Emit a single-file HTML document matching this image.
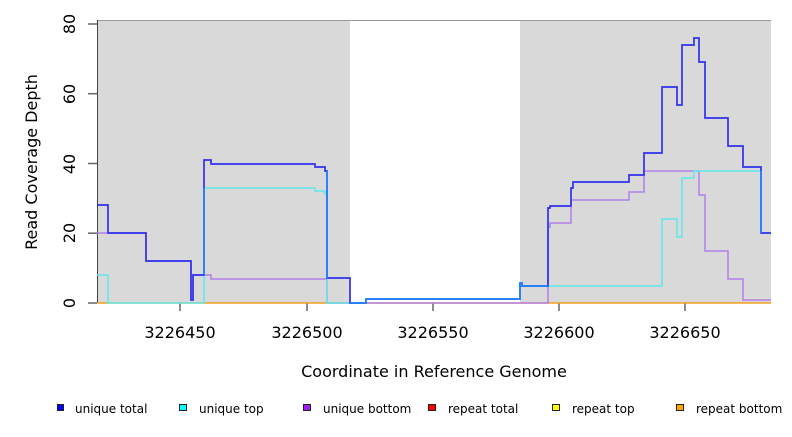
<!DOCTYPE html>
<html><head><meta charset="utf-8"><style>
html,body{margin:0;padding:0;background:#fff;}
svg text{font-family:"DejaVu Sans","Liberation Sans",sans-serif;fill:#000;}
</style></head><body>
<svg width="792" height="432" viewBox="0 0 792 432" xmlns="http://www.w3.org/2000/svg">
<rect x="97" y="20" width="253" height="283" fill="#d9d9d9"/>
<rect x="520" y="20" width="251" height="283" fill="#d9d9d9"/>
<line x1="97" y1="20.5" x2="771" y2="20.5" stroke="#999" stroke-width="1"/>
<line x1="97.5" y1="20" x2="97.5" y2="303" stroke="#444" stroke-width="1"/>
<g stroke="#666" stroke-width="1.5">
<line x1="88" y1="303" x2="97" y2="303"/><line x1="88" y1="233.2" x2="97" y2="233.2"/>
<line x1="88" y1="163.5" x2="97" y2="163.5"/><line x1="88" y1="93.7" x2="97" y2="93.7"/>
<line x1="88" y1="24" x2="97" y2="24"/>
<line x1="180" y1="303" x2="180" y2="311"/><line x1="307" y1="303" x2="307" y2="311"/>
<line x1="433" y1="303" x2="433" y2="311"/><line x1="559" y1="303" x2="559" y2="311"/>
<line x1="685" y1="303" x2="685" y2="311"/>
</g>
<g font-size="16" text-anchor="middle">
<text transform="translate(75,303) rotate(-90)">0</text>
<text transform="translate(75,233) rotate(-90)">20</text>
<text transform="translate(75,164) rotate(-90)">40</text>
<text transform="translate(75,94) rotate(-90)">60</text>
<text transform="translate(75,24) rotate(-90)">80</text>
<text x="180" y="338">3226450</text><text x="307" y="338">3226500</text>
<text x="433" y="338">3226550</text><text x="559" y="338">3226600</text>
<text x="685" y="338">3226650</text>
<text x="434" y="377">Coordinate in Reference Genome</text>
<text transform="translate(37,162) rotate(-90)">Read Coverage Depth</text>
</g>
<line x1="97" y1="303" x2="771" y2="303" stroke="#f0a020" stroke-width="1.5"/>
<polyline fill="none" stroke="#b080e8" stroke-width="1.5" points="97,233 146,233 146,261 191,261 191,300 193,300 193,275 211,275 211,279 327,279 327,303 548,303 548,227 550,227 550,223 571,223 571,200 629,200 629,192 644,192 644,171 699,171 699,195 705,195 705,251 728,251 728,279 743,279 743,300 771,300"/>
<polyline fill="none" stroke="#60e8ec" stroke-width="1.5" points="97,275 108,275 108,303 204,303 204,188 315,188 315,191 325,191 325,194 327,194 327,303 350,303 366,303 366,299 520,299 520,283 522,283 522,286 662,286 662,219 677,219 677,237 682,237 682,178 694,178 694,171 761,171 761,233 771,233"/>
<polyline fill="none" stroke="#1e8cff" stroke-width="1.5" points="204,275 204,160 327,171 327,275 350,275 350,303 366,303 366,299 520,299 520,283 522,283 522,286 548,286 761,233 761,233 771,233" opacity="0"/>
<polyline fill="none" stroke="#3030ee" stroke-width="1.7" points="97,205 108,205 108,233 146,233 146,261 191,261 191,300 193,300 193,275 204,275 204,160 211,160 211,164 315,164 315,167 325,167 325,171 327,171 327,278 350,278 350,303 366,303 366,299 520,299 520,283 522,283 522,286 548,286 548,208 550,208 550,206 571,206 571,188 573,188 573,182 629,182 629,175 644,175 644,153 662,153 662,87 677,87 677,105 682,105 682,45 694,45 694,38 699,38 699,62 705,62 705,118 728,118 728,146 743,146 743,167 761,167 761,233 771,233"/>
<g stroke="#1e8cff" stroke-width="1.5" fill="none">
<line x1="204" y1="275" x2="204" y2="188"/><line x1="327" y1="171" x2="327" y2="278"/>
<polyline points="350,303 366,303 366,299 520,299 520,283 522,283 522,286 548,286"/>
<line x1="761" y1="171" x2="761" y2="233"/>
</g>
<g font-size="12">
<rect x="57.5" y="404.5" width="6" height="6" fill="#0000ff" stroke="#222"/><text x="75" y="413">unique total</text>
<rect x="179.5" y="404.5" width="7" height="6" fill="#00ffff" stroke="#222"/><text x="199" y="413">unique top</text>
<rect x="303.5" y="404.5" width="7" height="6" fill="#a020f0" stroke="#222"/><text x="323" y="413">unique bottom</text>
<rect x="428.5" y="404.5" width="7" height="6" fill="#ff0000" stroke="#222"/><text x="448" y="413">repeat total</text>
<rect x="552.5" y="404.5" width="7" height="6" fill="#ffff00" stroke="#222"/><text x="572" y="413">repeat top</text>
<rect x="676.5" y="404.5" width="7" height="6" fill="#ffa500" stroke="#222"/><text x="696" y="413">repeat bottom</text>
</g>
</svg>
</body></html>
